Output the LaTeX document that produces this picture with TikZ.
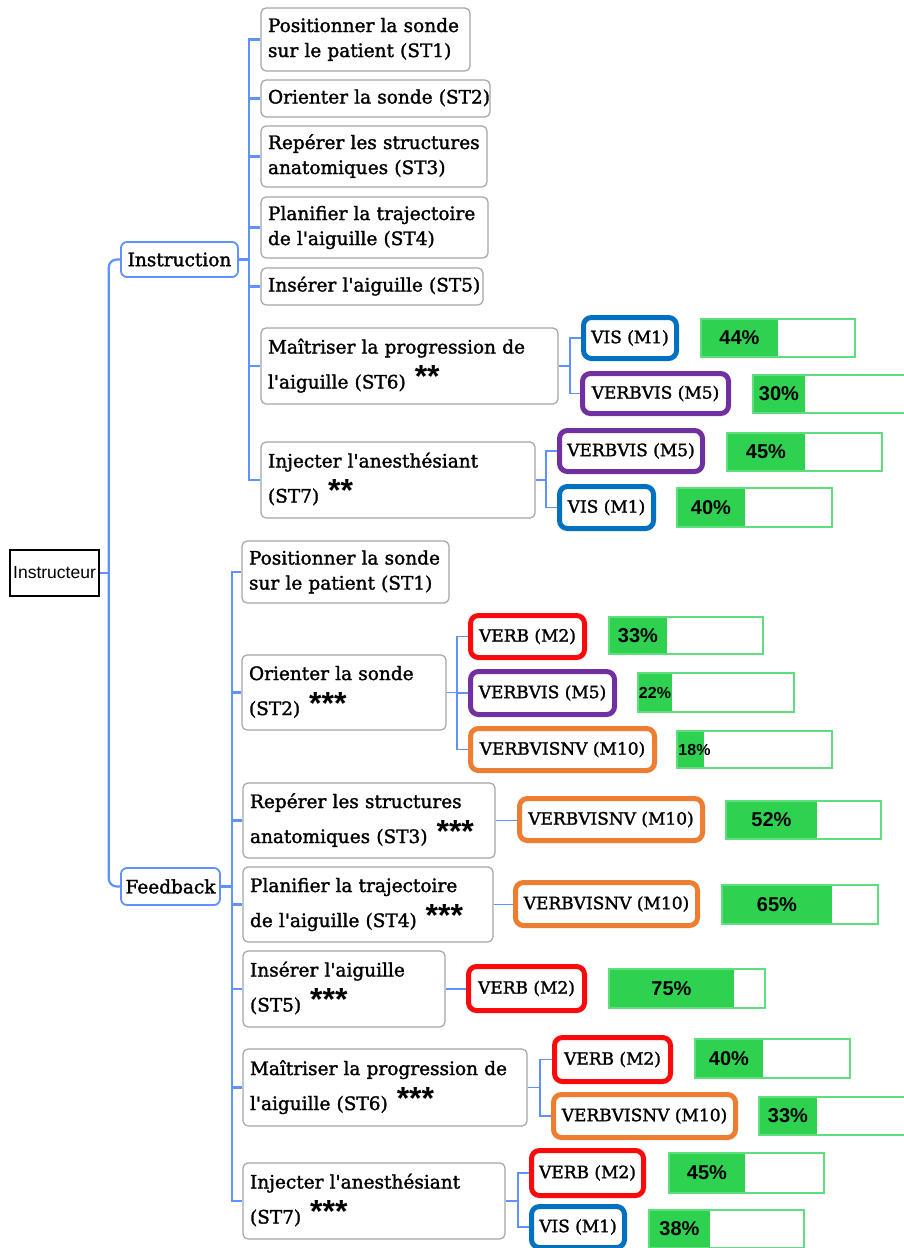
\documentclass[tikz,border=0pt]{standalone}
\usepackage{fontspec}
\newfontfamily\stf{DejaVu Serif}[FakeBold=1.6]
\newfontfamily\sansf{Liberation Sans}
\setlength{\parindent}{0pt}
\definecolor{linecol}{RGB}{95,145,255}
\definecolor{graybd}{RGB}{165,165,165}
\definecolor{cblue}{RGB}{0,112,192}
\definecolor{cpurple}{RGB}{112,48,160}
\definecolor{cred}{RGB}{250,10,10}
\definecolor{corange}{RGB}{237,125,49}
\definecolor{barfill}{RGB}{46,210,80}
\definecolor{barbd}{RGB}{95,222,125}
\tikzset{
  conn/.style={draw=linecol, line width=2.2pt},
  subconn/.style={draw=linecol, line width=1.8pt},
  stbox/.style={draw=graybd, line width=1.2pt, rounded corners=5pt, fill=white,
    inner xsep=6pt, inner ysep=0pt, align=left, font=\stf\fontsize{18.5}{25}\selectfont},
  catbox/.style={draw=linecol, line width=1.8pt, rounded corners=6pt, fill=white,
    inner sep=0pt, font=\stf\fontsize{18.5}{25}\selectfont},
  rootbox/.style={draw=black, line width=1.5pt, fill=white, inner sep=0pt,
    font=\sansf\fontsize{17.5}{20}\selectfont},
  methbox/.style={line width=5pt, rounded corners=8pt, fill=white, inner sep=0pt,
    font=\stf\fontsize{17}{22}\selectfont},
  mvis/.style={methbox, draw=cblue},
  mverbvis/.style={methbox, draw=cpurple},
  mverb/.style={methbox, draw=cred},
  mnv/.style={methbox, draw=corange},
  barframe/.style={draw=barbd, line width=1.5pt, inner sep=0pt},
  pct/.style={font=\sansf\bfseries\fontsize{20}{22}\selectfont, inner sep=0pt},
  pctsmall/.style={font=\sansf\bfseries\fontsize{16}{18}\selectfont},
}
\newcommand{\stbx}[6]{%
  \pgfmathsetmacro\bw{#4-#2}\pgfmathsetmacro\bh{#5-#3}%
  \pgfmathsetmacro\bx{(#2+#4)/2}\pgfmathsetmacro\by{(#3+#5)/2}%
  \pgfmathsetmacro\tw{#4-#2-14}%
  \node[stbox, minimum width=\bw pt, minimum height=\bh pt, text width=\tw pt] (#1) at (\bx,\by)
    {\begin{tabular}{@{}l@{}}#6\end{tabular}};}
\newcommand{\plainbx}[7]{%
  \pgfmathsetmacro\bw{#4-#2}\pgfmathsetmacro\bh{#5-#3}%
  \pgfmathsetmacro\bx{(#2+#4)/2}\pgfmathsetmacro\by{(#3+#5)/2}%
  \node[#6, minimum width=\bw pt, minimum height=\bh pt] (#1) at (\bx,\by) {#7};}
\newcommand{\methb}[7]{%
  \pgfmathsetmacro\bw{#4-#2-5}\pgfmathsetmacro\bh{#5-#3-5}%
  \pgfmathsetmacro\bx{(#2+#4)/2}\pgfmathsetmacro\by{(#3+#5)/2}%
  \node[#6, minimum width=\bw pt, minimum height=\bh pt] (#1) at (\bx,\by) {#7};}
\newcommand{\pbar}[8]{%
  \fill[barfill] (#2,#3) rectangle (#6,#5);
  \pgfmathsetmacro\bw{#4-#2}\pgfmathsetmacro\bh{#5-#3}%
  \pgfmathsetmacro\bx{(#2+#4)/2}\pgfmathsetmacro\by{(#3+#5)/2}%
  \pgfmathsetmacro\lx{(#2+#6)/2}%
  \node[barframe, minimum width=\bw pt, minimum height=\bh pt] (#1) at (\bx,\by) {};
  \node[pct, #8] (#1l) at (\lx,\by) {#7};}
\newcommand{\stars}[1]{\hspace{9pt}\smash{\raisebox{1pt}{\sansf\bfseries\fontsize{32}{32}\selectfont #1}}}
\begin{document}
\begin{tikzpicture}[x=1pt, y=-1pt]
\clip (0,0) rectangle (904,1248);
\fill[white] (0,0) rectangle (904,1248);

% root and categories
\plainbx{root}{10}{550}{99}{596}{rootbox}{Instructeur}
\plainbx{instr}{121}{242}{238}{277}{catbox}{Instruction}
\plainbx{feed}{121}{868}{220}{905}{catbox}{Feedback}

% Instruction steps
\stbx{i1}{261}{8}{470}{71}{Positionner la sonde\\sur le patient (ST1)}
\stbx{i2}{261}{80}{490}{117}{Orienter la sonde (ST2)}
\stbx{i3}{261}{126}{487}{187}{Repérer les structures\\anatomiques (ST3)}
\stbx{i4}{261}{197}{488}{258}{Planifier la trajectoire\\de l'aiguille (ST4)}
\stbx{i5}{261}{268}{483}{305}{Insérer l'aiguille (ST5)}
\stbx{i6}{261}{328}{558}{404}{Maîtriser la progression de\\[10pt]l'aiguille (ST6)\stars{**}}
\stbx{i7}{261}{442}{535}{518}{Injecter l'anesthésiant\\[10pt](ST7)\stars{**}}

% Feedback steps
\stbx{f1}{242}{541}{449}{603}{Positionner la sonde\\sur le patient (ST1)}
\stbx{f2}{242}{655}{446}{730}{Orienter la sonde\\[10pt](ST2)\stars{***}}
\stbx{f3}{243}{783}{495}{858}{Repérer les structures\\[10pt]anatomiques (ST3)\stars{***}}
\stbx{f4}{243}{867}{493}{942}{Planifier la trajectoire\\[10pt]de l'aiguille (ST4)\stars{***}}
\stbx{f5}{243}{951}{445}{1027}{Insérer l'aiguille\\[10pt](ST5)\stars{***}}
\stbx{f6}{243}{1049}{527}{1126}{Maîtriser la progression de\\[10pt]l'aiguille (ST6)\stars{***}}
\stbx{f7}{243}{1163}{505}{1239}{Injecter l'anesthésiant\\[10pt](ST7)\stars{***}}

% method boxes
\methb{mi6a}{581}{315}{679}{361}{mvis}{VIS (M1)}
\methb{mi6b}{580}{371}{731}{416}{mverbvis}{VERBVIS (M5)}
\methb{mi7a}{557}{428}{705}{474}{mverbvis}{VERBVIS (M5)}
\methb{mi7b}{557}{484}{656}{531}{mvis}{VIS (M1)}
\methb{mf2a}{468}{613}{587}{660}{mverb}{VERB (M2)}
\methb{mf2b}{468}{669}{617}{717}{mverbvis}{VERBVIS (M5)}
\methb{mf2c}{468}{726}{657}{773}{mnv}{VERBVISNV (M10)}
\methb{mf3}{517}{796}{705}{843}{mnv}{VERBVISNV (M10)}
\methb{mf4}{513}{880}{700}{928}{mnv}{VERBVISNV (M10)}
\methb{mf5}{466}{964}{587}{1013}{mverb}{VERB (M2)}
\methb{mf6a}{552}{1035}{673}{1084}{mverb}{VERB (M2)}
\methb{mf6b}{551}{1092}{738}{1140}{mnv}{VERBVISNV (M10)}
\methb{mf7a}{529}{1148}{646}{1198}{mverb}{VERB (M2)}
\methb{mf7b}{529}{1204}{627}{1250}{mvis}{VIS (M1)}

% bars
\pbar{bi6a}{701}{319}{855}{357}{778}{44\%}{}
\pbar{bi6b}{753}{375}{915}{413}{805}{30\%}{}
\pbar{bi7a}{727}{433}{882}{471}{805}{45\%}{}
\pbar{bi7b}{677}{488}{832}{527}{745}{40\%}{}
\pbar{bf2a}{609}{617}{763}{654}{667}{33\%}{}
\pbar{bf2b}{638}{673}{794}{712}{672}{22\%}{pctsmall}
\pbar{bf2c}{677}{731}{832}{768}{704}{18\%}{pctsmall, xshift=4pt}
\pbar{bf3}{726}{801}{881}{839}{817}{52\%}{}
\pbar{bf4}{722}{885}{878}{924}{832}{65\%}{}
\pbar{bf5}{609}{969}{765}{1008}{734}{75\%}{}
\pbar{bf6a}{695}{1039}{850}{1078}{763}{40\%}{}
\pbar{bf6b}{759}{1097}{915}{1135}{817}{33\%}{}
\pbar{bf7a}{669}{1153}{824}{1193}{745}{45\%}{}
\pbar{bf7b}{649}{1210}{804}{1248}{710}{38\%}{}

% connectors
\coordinate (j0) at ([xshift=9pt]root.east);
\draw[conn] (root.east) -- (j0);
\draw[conn, rounded corners=8pt] (j0) |- (instr.west);
\draw[conn, rounded corners=8pt] (j0) |- (feed.west);

\coordinate (ji) at ([xshift=10pt]instr.east);
\draw[conn] (instr.east) -- (ji);
\foreach \n in {i1,i2,i3,i4,i5,i6,i7} \draw[conn] (ji) |- (\n.west);

\coordinate (jf) at ([xshift=11pt]feed.east);
\draw[conn] (feed.east) -- (jf);
\foreach \n in {f1,f2,f3,f4,f5,f6,f7} \draw[conn] (jf) |- (\n.west);

\coordinate (k6) at ([xshift=11pt]i6.east);
\draw[subconn] (i6.east) -- (k6);
\draw[subconn] (k6) |- (mi6a.west);
\draw[subconn] (k6) |- (mi6b.west);

\coordinate (k7) at ([xshift=10pt]i7.east);
\draw[subconn] (i7.east) -- (k7);
\draw[subconn] (k7) |- (mi7a.west);
\draw[subconn] (k7) |- (mi7b.west);

\coordinate (g2) at ([xshift=10pt]f2.east);
\draw[subconn] (f2.east) -- (g2);
\draw[subconn] (g2) |- (mf2a.west);
\draw[subconn] (g2) |- (mf2b.west);
\draw[subconn] (g2) |- (mf2c.west);

\draw[subconn] (f3.east) -- (f3.east -| mf3.west);
\draw[subconn] (f4.east) -- (f4.east -| mf4.west);
\draw[subconn] (f5.east) -- (f5.east -| mf5.west);

\coordinate (g6) at ([xshift=12pt]f6.east);
\draw[subconn] (f6.east) -- (g6);
\draw[subconn] (g6) |- (mf6a.west);
\draw[subconn] (g6) |- (mf6b.west);

\coordinate (g7) at ([xshift=12pt]f7.east);
\draw[subconn] (f7.east) -- (g7);
\draw[subconn] (g7) |- (mf7a.west);
\draw[subconn] (g7) |- (mf7b.west);
\end{tikzpicture}
\end{document}
